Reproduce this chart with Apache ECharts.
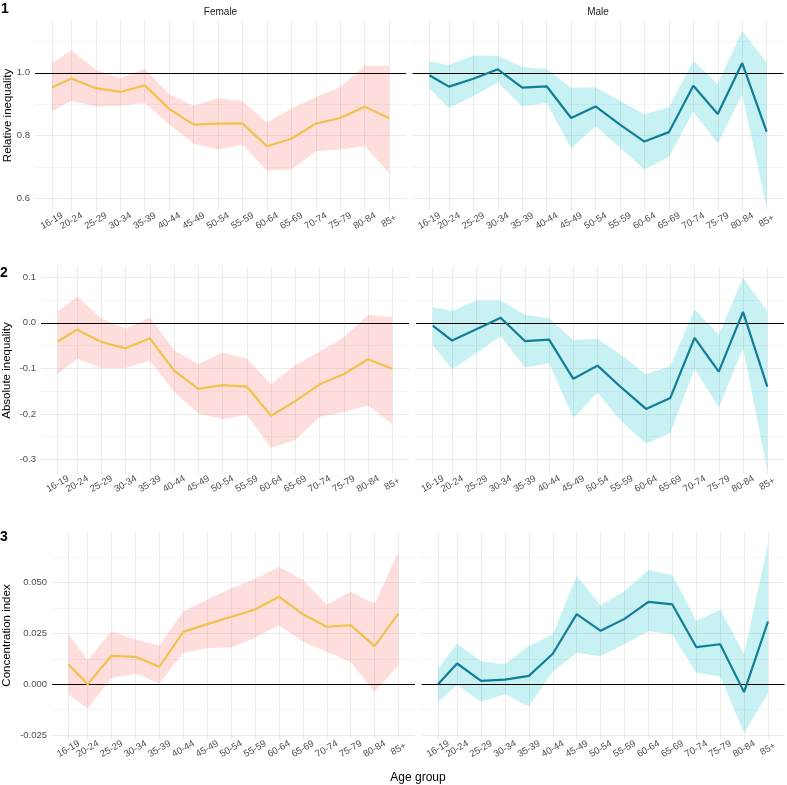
<!DOCTYPE html>
<html><head><meta charset="utf-8">
<script src="https://cdn.jsdelivr.net/npm/echarts@6/dist/echarts.min.js"></script>
<style>html,body{margin:0;padding:0;background:#fff}#c{width:787px;height:785px}</style>
</head><body><div id="c"></div>
<script>
// ---- categories ----
const ageGroups = ['16-19','20-24','25-29','30-34','35-39','40-44','45-49','50-54','55-59','60-64','65-69','70-74','75-79','80-84','85+'];
const ageStart  = [16,20,25,30,35,40,45,50,55,60,65,70,75,80,85];

// ---- 1: Relative inequality ----
const relFemale   = [0.953,0.982,0.951,0.939,0.960,0.885,0.835,0.838,0.839,0.766,0.790,0.838,0.856,0.892,0.856];
const relFemaleLo = [0.877,0.911,0.893,0.895,0.904,0.835,0.774,0.756,0.771,0.689,0.692,0.750,0.756,0.766,0.681];
const relFemaleHi = [1.031,1.071,1.010,0.983,1.013,0.932,0.895,0.920,0.909,0.842,0.886,0.922,0.955,1.022,1.022];
const relMale     = [0.992,0.956,0.981,1.011,0.953,0.957,0.856,0.893,0.835,0.781,0.811,0.959,0.869,1.031,0.813];
const relMaleLo   = [0.951,0.888,0.925,0.969,0.893,0.904,0.759,0.830,0.761,0.692,0.732,0.877,0.775,0.930,0.572];
const relMaleHi   = [1.036,1.025,1.055,1.054,1.018,1.012,0.952,0.954,0.911,0.867,0.890,1.038,0.965,1.133,1.033];

// ---- 2: Absolute inequality ----
const absFemale   = [-0.041,-0.015,-0.042,-0.056,-0.034,-0.105,-0.145,-0.137,-0.140,-0.204,-0.172,-0.135,-0.113,-0.080,-0.101];
const absFemaleLo = [-0.113,-0.079,-0.099,-0.099,-0.083,-0.151,-0.199,-0.212,-0.202,-0.275,-0.257,-0.207,-0.196,-0.181,-0.223];
const absFemaleHi = [0.025,0.057,0.010,-0.013,0.012,-0.060,-0.091,-0.065,-0.079,-0.135,-0.093,-0.063,-0.032,0.018,0.013];
const absMale     = [-0.006,-0.039,-0.014,0.011,-0.040,-0.037,-0.123,-0.094,-0.143,-0.189,-0.165,-0.033,-0.107,0.024,-0.140];
const absMaleLo   = [-0.049,-0.102,-0.067,-0.029,-0.098,-0.089,-0.209,-0.153,-0.218,-0.265,-0.242,-0.101,-0.186,-0.056,-0.325];
const absMaleHi   = [0.034,0.026,0.049,0.049,0.018,0.010,-0.038,-0.035,-0.072,-0.113,-0.095,0.030,-0.026,0.099,0.026];

// ---- 3: Concentration index ----
const ciFemale   = [0.0097,0.0000,0.0140,0.0135,0.0086,0.0258,0.0296,0.0332,0.0368,0.0431,0.0345,0.0283,0.0291,0.0188,0.0349];
const ciFemaleLo = [-0.0051,-0.0120,0.0031,0.0053,0.0003,0.0155,0.0179,0.0181,0.0229,0.0291,0.0209,0.0160,0.0110,-0.0038,0.0094];
const ciFemaleHi = [0.0247,0.0118,0.0262,0.0220,0.0189,0.0360,0.0418,0.0472,0.0518,0.0579,0.0513,0.0393,0.0456,0.0395,0.0653];
const ciMale     = [0.0000,0.0102,0.0016,0.0023,0.0041,0.0150,0.0345,0.0263,0.0322,0.0406,0.0393,0.0183,0.0197,-0.0039,0.0309];
const ciMaleLo   = [-0.0087,-0.0005,-0.0087,-0.0049,-0.0109,0.0061,0.0155,0.0138,0.0197,0.0262,0.0245,0.0056,0.0039,-0.0240,-0.0046];
const ciMaleHi   = [0.0077,0.0201,0.0113,0.0097,0.0189,0.0245,0.0533,0.0388,0.0459,0.0563,0.0538,0.0311,0.0368,0.0148,0.0694];

// ---- tick labels ----
const relTicks = [0.6, 0.8, 1.0];
const relMinor = [0.7, 0.9, 1.1];
const absTicks = [-0.3, -0.2, -0.1, 0.0, 0.1];
const absMinor = [-0.25, -0.15, -0.05, 0.05];
const ciTicks  = [-0.025, 0.000, 0.025, 0.050];
const ciMinor  = [-0.0125, 0.0125, 0.0375, 0.0625];

const rowTitles = ['Relative inequality', 'Absolute inequality', 'Concentration index'];
const colTitles = ['Female', 'Male'];
const refValues = [1, 0, 0];

// ---- layout / style ----
const FONT = '"Liberation Sans", Arial, Helvetica, sans-serif';
const FEM_LINE = '#F2C14E', FEM_BAND = 'rgba(248,118,109,0.24)';
const MAL_LINE = '#127D98', MAL_BAND = 'rgba(0,191,196,0.22)';

const rows = [
  {fem:[relFemale,relFemaleLo,relFemaleHi], mal:[relMale,relMaleLo,relMaleHi], ticks:relTicks, minor:relMinor, dec:1,
   min:0.56, max:1.168, top:20, height:191, fl:35, ml:412.5, w:371},
  {fem:[absFemale,absFemaleLo,absFemaleHi], mal:[absMale,absMaleLo,absMaleHi], ticks:absTicks, minor:absMinor, dec:1,
   min:-0.332, max:0.1226, top:267, height:207, fl:41, ml:416, w:368},
  {fem:[ciFemale,ciFemaleLo,ciFemaleHi], mal:[ciMale,ciMaleLo,ciMaleHi], ticks:ciTicks, minor:ciMinor, dec:3,
   min:-0.027, max:0.075, top:532, height:207, fl:52, ml:421.5, w:363}
];

function xAxisDef(gi, ticks) {
  return {
    type:'value', gridIndex: gi, min: 12.55, max: 88.45, position:'bottom', offset: 0,
    axisLine:{show:false}, axisTick:{show:false, customValues: ticks},
    axisLabel:{customValues: ticks, formatter: v => ageGroups[ageStart.indexOf(v)] || '',
      rotate: 30, align:'center', verticalAlign:'middle', margin: 10, hideOverlap: false,
      showMinLabel: true, showMaxLabel: true,
      color:'#4D4D4D', fontSize: 9.5, fontFamily: FONT},
    splitLine:{show:true, lineStyle:{color:'#EBEBEB', width:1}}
  };
}

const grid = [], xAxis = [], yAxis = [], series = [];
rows.forEach((r, ri) => {
  [0, 1].forEach(ci => {
    const gi = grid.length;
    grid.push({left: ci === 0 ? r.fl : r.ml, top: r.top, width: r.w, height: r.height, containLabel: false});
    // first age group on its own axis so its label is never dropped by overlap handling
    xAxis.push(xAxisDef(gi, ageStart.slice(0, 1)));
    const xMain = xAxis.length;
    xAxis.push(xAxisDef(gi, ageStart.slice(1)));
    const yMaj = yAxis.length;
    yAxis.push({
      type:'value', gridIndex: gi, min: r.min, max: r.max, position:'left',
      axisLine:{show:false}, axisTick:{show:false, customValues: r.ticks},
      axisLabel:{show: ci === 0, customValues: r.ticks, formatter: v => v.toFixed(r.dec),
        margin: 5, color:'#4D4D4D', fontSize: 9.5, fontFamily: FONT},
      splitLine:{show:true, lineStyle:{color:'#EBEBEB', width:1}}
    });
    yAxis.push({
      type:'value', gridIndex: gi, min: r.min, max: r.max, position:'left',
      axisLine:{show:false}, axisTick:{show:false, customValues: r.minor},
      axisLabel:{show:false, customValues: r.minor},
      splitLine:{show:true, lineStyle:{color:'#F4F4F4', width:1}}
    });
    const d = ci === 0 ? r.fem : r.mal;
    const vals = d[0], lo = d[1], hi = d[2];
    series.push({
      type:'custom', xAxisIndex: xMain, yAxisIndex: yMaj, silent: true, z: 1, clip: true, animation:false,
      data: ageStart.map((x, i) => [x, lo[i], hi[i]]),
      encode:{x:0, y:[1,2]},
      renderItem: (params, api) => {
        if (params.dataIndex !== 0) return null;
        const upper = ageStart.map((x, i) => api.coord([x, hi[i]]));
        const lower = ageStart.map((x, i) => api.coord([x, lo[i]])).reverse();
        return {type:'polygon', shape:{points: upper.concat(lower)},
          style:{fill: ci === 0 ? FEM_BAND : MAL_BAND, stroke: null}};
      },
      markLine:{silent:true, z: 2, symbol:'none', label:{show:false}, animation:false,
        lineStyle:{color:'#000', width:1, type:'solid'}, data:[{yAxis: refValues[ri]}]}
    });
    series.push({
      type:'line', xAxisIndex: xMain, yAxisIndex: yMaj, silent: true, z: 4, animation:false,
      data: ageStart.map((x, i) => [x, vals[i]]),
      showSymbol:false, symbol:'none',
      lineStyle:{color: ci === 0 ? FEM_LINE : MAL_LINE, width: 2.2}
    });
  });
});

const graphic = [];
function txt(text, x, y, opt) {
  graphic.push(Object.assign({type:'text', x, y, silent:true,
    style: Object.assign({text, fill:'#1A1A1A', font: '11px ' + FONT, align:'center', verticalAlign:'middle'}, opt.style || {})},
    opt.rot ? {rotation: opt.rot} : {}));
}
txt(colTitles[0], 220.5, 12.5, {style:{font:'10px ' + FONT}});
txt(colTitles[1], 598, 12.5, {style:{font:'10px ' + FONT}});
txt('1', 1, 9.5, {style:{font:'bold 14px ' + FONT, align:'left', fill:'#000'}});
txt('2', 0, 273.5, {style:{font:'bold 14px ' + FONT, align:'left', fill:'#000'}});
txt('3', 0, 537.5, {style:{font:'bold 14px ' + FONT, align:'left', fill:'#000'}});
txt(rowTitles[0], 8, 115.5, {rot: Math.PI/2, style:{font:'11.5px ' + FONT, fill:'#000'}});
txt(rowTitles[1], 7, 370.5, {rot: Math.PI/2, style:{font:'11.5px ' + FONT, fill:'#000'}});
txt(rowTitles[2], 7, 635.5, {rot: Math.PI/2, style:{font:'11.5px ' + FONT, fill:'#000'}});
txt('Age group', 418, 778, {style:{font:'12px ' + FONT, fill:'#000'}});

const chart = echarts.init(document.getElementById('c'), null, {renderer:'canvas'});
chart.setOption({animation:false, backgroundColor:'#fff', grid, xAxis, yAxis, series, graphic});
</script></body></html>
